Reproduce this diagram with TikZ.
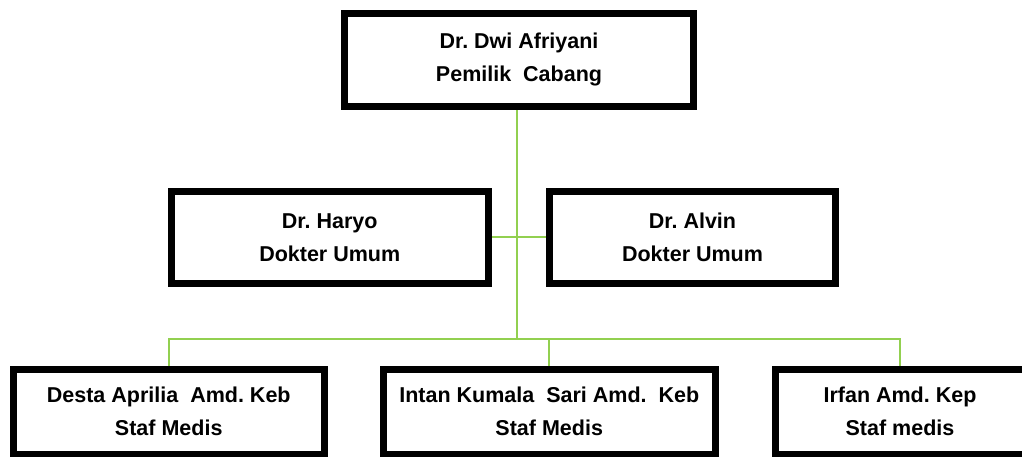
\documentclass[tikz,border=0pt]{standalone}
\usepackage{fontspec}
\setmainfont{Liberation Sans}
\frenchspacing
\usetikzlibrary{backgrounds}
\definecolor{linkgreen}{RGB}{146,208,80}
\tikzset{
  orgbox/.style={draw=black, line width=7pt, fill=white, rectangle, inner sep=0pt, outer sep=0pt,
    align=center, font=\fontsize{21.5}{33}\selectfont\bfseries\frenchspacing},
  link/.style={draw=linkgreen, line width=2.2pt}
}
\begin{document}
\begin{tikzpicture}[x=1pt,y=-1pt]
\useasboundingbox (0,0) rectangle (1022,456);
\node[orgbox, minimum width=349pt, minimum height=93pt] (top) at (519,59.7) {Dr. Dwi Afriyani\\Pemilik~~Cabang};
\node[orgbox, minimum width=317.5pt, minimum height=92.5pt] (haryo) at (329.75,237.25) {Dr. Haryo\\Dokter Umum};
\node[orgbox, minimum width=286pt, minimum height=92.5pt] (alvin) at (692.5,237.25) {Dr. Alvin\\Dokter Umum};
\node[orgbox, minimum width=311.5pt, minimum height=85pt] (desta) at (168.75,411.5) {Desta Aprilia~~Amd. Keb\\Staf Medis};
\node[orgbox, minimum width=331.5pt, minimum height=85pt] (intan) at (549.25,411.5) {Intan Kumala~~Sari Amd.~~Keb\\Staf Medis};
\node[orgbox, minimum width=250pt, minimum height=85pt] (irfan) at (900,411.5) {Irfan Amd. Kep\\Staf medis};
\coordinate (bus) at (517,339);
\begin{scope}[on background layer]
  \fill[white] (0,0) rectangle (1022,456);
  \draw[link] (top.south -| bus) -- (bus);
  \draw[link] (haryo.east) -- (alvin.west);
  \draw[link] (desta.north) |- (bus) -| (irfan.north);
  \draw[link] (intan.north) -- (intan.north |- bus);
\end{scope}
\end{tikzpicture}
\end{document}
